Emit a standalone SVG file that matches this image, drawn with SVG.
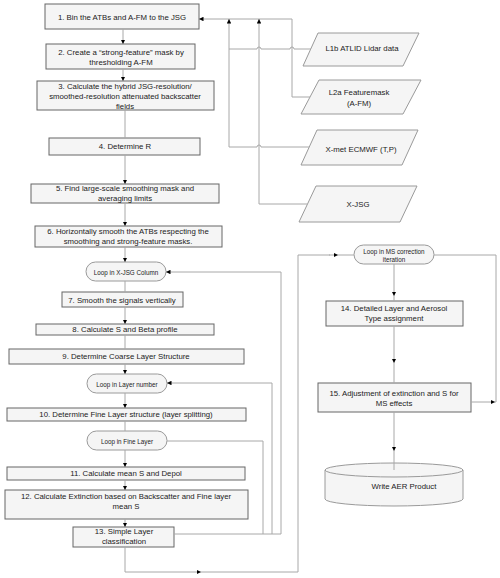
<svg xmlns="http://www.w3.org/2000/svg" width="500" height="578" viewBox="0 0 500 578">
<style>
.b{fill:#f5f5f5;stroke:#666;stroke-width:1}
.p{fill:#f5f5f5;stroke:#9a9a9a;stroke-width:1}
.lp{fill:#f5f5f5;stroke:#9a9a9a;stroke-width:1}
.c{fill:none;stroke:#a8a8a8;stroke-width:1}
.a{marker-end:url(#ah)}
text{font-family:"Liberation Sans",Arial,sans-serif;font-size:7.8px;fill:#222;text-anchor:middle;dominant-baseline:central}
.s{font-size:6.3px}
</style>
<defs>
<marker id="ah" viewBox="0 0 6 6" refX="6" refY="3" markerWidth="4.5" markerHeight="4.5" markerUnits="userSpaceOnUse" orient="auto">
<path d="M0,0L6,3L0,6z" fill="#000"/>
</marker>
</defs>
<rect width="500" height="578" fill="#fff"/>
<g id="n1"><rect class="b" x="45" y="4" width="154" height="25"/><text x="122" y="17">1. Bin the ATBs and A-FM to the JSG</text></g>
<g id="n2"><rect class="b" x="46" y="44" width="149" height="25"/><text x="121" y="52">2. Create a “strong-feature” mask by</text><text x="121" y="62">thresholding A-FM</text></g>
<g id="n3"><rect class="b" x="37" y="81" width="177" height="29"/><text x="125" y="86">3. Calculate the hybrid JSG-resolution/</text><text x="125" y="96">smoothed-resolution attenuated backscatter</text><text x="125" y="106">fields</text></g>
<g id="n4"><rect class="b" x="49" y="138" width="151" height="17"/><text x="125" y="146">4. Determine R</text></g>
<g id="n5"><rect class="b" x="31" y="184" width="188" height="19"/><text x="125" y="188.5">5. Find large-scale smoothing mask and</text><text x="125" y="198.5">averaging limits</text></g>
<g id="n6"><rect class="b" x="35" y="226" width="187" height="21"/><text x="128" y="231">6. Horizontally smooth the ATBs respecting the</text><text x="128" y="241">smoothing and strong-feature masks.</text></g>
<g id="loop1"><rect class="lp" x="86" y="262" width="80" height="19" rx="9.5"/><text class="s" x="126" y="272">Loop in X-JSG Column</text></g>
<g id="n7"><rect class="b" x="62" y="292" width="121" height="15"/><text x="122" y="300">7. Smooth the signals vertically</text></g>
<g id="n8"><rect class="b" x="36" y="324" width="178" height="11"/><text x="125" y="329.5">8. Calculate S and Beta profile</text></g>
<g id="n9"><rect class="b" x="9" y="349" width="235" height="15"/><text x="126" y="356.5">9. Determine Coarse Layer Structure</text></g>
<g id="loop2"><rect class="lp" x="87" y="374" width="80" height="19" rx="9.5"/><text class="s" x="127" y="384">Loop in Layer number</text></g>
<g id="n10"><rect class="b" x="7" y="408" width="239" height="13"/><text x="126" y="414.5">10. Determine Fine Layer structure (layer splitting)</text></g>
<g id="loop3"><rect class="lp" x="87" y="431" width="80" height="19" rx="9.5"/><text class="s" x="127" y="441">Loop in Fine Layer</text></g>
<g id="n11"><rect class="b" x="7" y="467" width="238" height="13"/><text x="126" y="473.5">11. Calculate mean S and Depol</text></g>
<g id="n12"><rect class="b" x="5" y="490" width="243" height="29"/><text x="126" y="496">12. Calculate Extinction based on Backscatter and Fine layer</text><text x="126" y="506">mean S</text></g>
<g id="n13"><rect class="b" x="73" y="527" width="101" height="20"/><text x="124" y="531">13. Simple Layer</text><text x="124" y="541">classification</text></g>
<g id="in1"><polygon class="p" points="318,33 419,33 403,66 303,66"/><text x="362" y="48">L1b ATLID Lidar data</text></g>
<g id="in2"><polygon class="p" points="319,80 421,80 403,114 301,114"/><text x="359" y="92">L2a Featuremask</text><text x="359" y="103">(A-FM)</text></g>
<g id="in3"><polygon class="p" points="317,130 418,130 402,165 301,165"/><text x="361" y="149">X-met ECMWF (T,P)</text></g>
<g id="in4"><polygon class="p" points="316,186 417,186 400,222 299,222"/><text x="358" y="204">X-JSG</text></g>
<g id="loopMS"><rect class="lp" x="354" y="245" width="80" height="19" rx="9.5"/><text class="s" x="394" y="251">Loop in MS correction</text><text class="s" x="394" y="259">iteration</text></g>
<g id="n14"><rect class="b" x="326" y="301" width="137" height="25"/><text x="394" y="308.5">14. Detailed Layer and Aerosol</text><text x="394" y="318.5">Type assignment</text></g>
<g id="n15"><rect class="b" x="318" y="383" width="153" height="29"/><text x="394" y="393">15. Adjustment of extinction and S for</text><text x="394" y="403">MS effects</text></g>
<g id="out"><path class="p" d="M325,470V499A69,7 0 0 0 463,499V470"/><ellipse class="p" cx="394" cy="470" rx="69" ry="7"/><text x="404" y="486">Write AER Product</text></g>
<g id="connectors">
<path class="c a" d="M123,29V44"/>
<path class="c a" d="M123,69V81"/>
<path class="c" d="M125,110V138"/>
<path class="c a" d="M125,155V184"/>
<path class="c a" d="M125,203V226"/>
<path class="c a" d="M125,247V262"/>
<path class="c" d="M125,281V292"/>
<path class="c a" d="M125,307V324"/>
<path class="c" d="M125,335V349"/>
<path class="c a" d="M125,364V374"/>
<path class="c a" d="M125,393V408"/>
<path class="c" d="M125,421V431"/>
<path class="c a" d="M125,450V467"/>
<path class="c a" d="M125,480V490"/>
<path class="c a" d="M125,519V527"/>
<path class="c a" d="M125,547V572H201"/>
<path class="c" d="M200,572H298V255H330"/>
<path class="c a" d="M329,255H338"/>
<path class="c" d="M337,255H354"/>
<path class="c a" d="M174,534H281V272H166"/>
<path class="c a" d="M272,534V383H167"/>
<path class="c" d="M263,534V441H167"/>
<path class="c a" d="M394,264V296"/>
<path class="c" d="M394,295V301"/>
<path class="c a" d="M394,326V363"/>
<path class="c" d="M394,362V383"/>
<path class="c a" d="M394,412V451"/>
<path class="c" d="M394,450V470"/>
<path class="c a" d="M471,402H495"/>
<path class="c" d="M495,402H496V255H434"/>
<path class="c a" d="M310,97H292V19H199"/>
<path class="c a" d="M311,49H294a2,2 0 0 0 -4,0H261a2,2 0 0 0 -4,0H229V19"/>
<path class="c" d="M309,147H261a2,2 0 0 0 -4,0H229V49"/>
<path class="c a" d="M307,204H259V19"/>
</g>
</svg>
